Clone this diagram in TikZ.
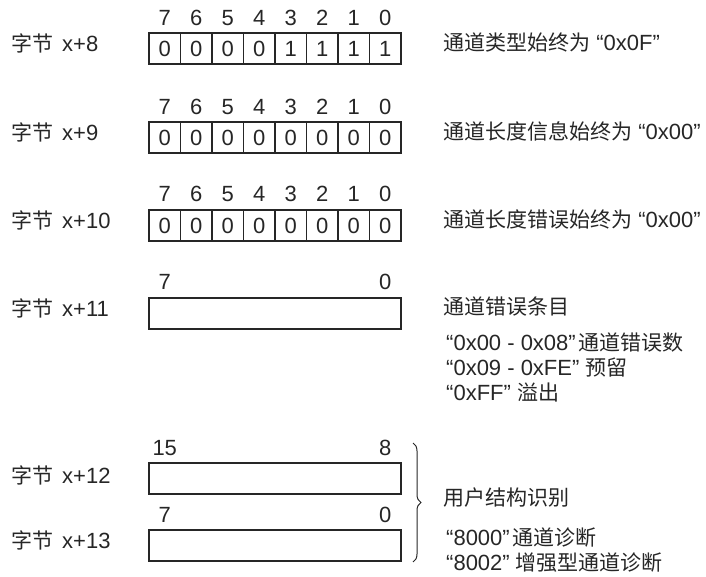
\documentclass[tikz,border=0pt]{standalone}
\usepackage{fontspec}
\setmainfont{Liberation Sans}
\newfontfamily\zhfont{Noto Sans CJK SC}
\newcommand{\zh}[1]{{\fontsize{21}{26}\selectfont\zhfont #1}}
\usepackage{tikz}
\usetikzlibrary{decorations.pathreplacing}

\begin{document}
\begin{tikzpicture}[x=1pt, y=-1pt,
            every node/.style={font=\fontsize{22}{26}\selectfont, text=black!85},
            cell/.style={draw=black!85, line width=1.1pt, minimum width=31.5pt, minimum height=31pt, inner sep=0pt},
            wide/.style={draw=black!85, line width=1.1pt, minimum width=252pt, minimum height=31pt, inner sep=0pt},
            bit/.style={inner sep=0pt},
            lbl/.style={anchor=west, inner sep=0pt}]
        \useasboundingbox (0,0) rectangle (706,577);

        % byte x+8
        \foreach \v [count=\i] in {0,0,0,0,1,1,1,1}
            \node[cell] (a\i) at (133.25+31.5*\i, 48.5) {\v};
        \foreach \b [count=\i] in {7,6,...,0}
            \node[bit] (ab\i) at (a\i |- 0,18) {\b};
        \node[lbl] (la) at (11,43) {\zh{字节}\hspace{9pt}x+8};
        \node[lbl] (da) at (443,42) {\zh{通道类型始终为} “0x0F”};

        % byte x+9
        \foreach \v [count=\i] in {0,0,0,0,0,0,0,0}
            \node[cell] (b\i) at (133.25+31.5*\i, 137.5) {\v};
        \foreach \b [count=\i] in {7,6,...,0}
            \node[bit] (bb\i) at (b\i |- 0,107) {\b};
        \node[lbl] (lb) at (11,132) {\zh{字节}\hspace{9pt}x+9};
        \node[lbl] (db) at (443,131) {\zh{通道长度信息始终为} “0x00”};

        % byte x+10
        \foreach \v [count=\i] in {0,0,0,0,0,0,0,0}
            \node[cell] (c\i) at (133.25+31.5*\i, 225.5) {\v};
        \foreach \b [count=\i] in {7,6,...,0}
            \node[bit] (cb\i) at (c\i |- 0,194) {\b};
        \node[lbl] (lc) at (11,220) {\zh{字节}\hspace{9pt}x+10};
        \node[lbl] (dc) at (443,219) {\zh{通道长度错误始终为} “0x00”};

        % byte x+11
        \node[wide] (d) at (275,313.5) {};
        \node[bit] (dh) at (164.75,282) {7};
        \node[bit] (dl) at (385.25,282) {0};
        \node[lbl] (ld) at (11,308) {\zh{字节}\hspace{9pt}x+11};
        \node[lbl] (dd) at (443,307) {\zh{通道错误条目}};
        \node[lbl] (dd1) at (446,343) {“0x00 - 0x08”\hspace{3pt}\zh{通道错误数}};
        \node[lbl] (dd2) at (446,368) {“0x09 - 0xFE” \zh{预留}};
        \node[lbl] (dd3) at (446,393) {“0xFF” \zh{溢出}};

        % bytes x+12, x+13
        \node[wide] (e) at (275,478.5) {};
        \node[bit] (eh) at (164.75,448) {15};
        \node[bit] (el) at (385.25,448) {8};
        \node[lbl] (le) at (11,475) {\zh{字节}\hspace{9pt}x+12};
        \node[wide] (f) at (275,545.5) {};
        \node[bit] (fh) at (164.75,515) {7};
        \node[bit] (fl) at (385.25,515) {0};
        \node[lbl] (lf) at (11,540) {\zh{字节}\hspace{9pt}x+13};

        \draw[line width=1pt, draw=black!85, decorate, decoration={brace, amplitude=8pt}] (413,443) -- (413,562);
        \node[lbl] (de) at (443,498) {\zh{用户结构识别}};
        \node[lbl] (de1) at (446,538) {“8000”\hspace{3pt}\zh{通道诊断}};
        \node[lbl] (de2) at (446,563) {“8002” \zh{增强型通道诊断}};
    \end{tikzpicture}
\end{document}
